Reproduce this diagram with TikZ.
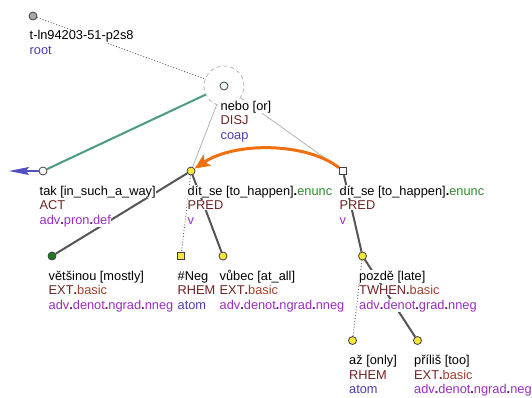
\documentclass[tikz,border=0pt]{standalone}
\usepackage{fontspec}
\setmainfont{Liberation Sans}
\usetikzlibrary{arrows.meta,backgrounds}
\definecolor{funcol}{HTML}{6E2323}
\definecolor{basiccol}{HTML}{A0402E}
\definecolor{purcol}{HTML}{9A2FC0}
\definecolor{purdark}{HTML}{5A1070}
\definecolor{blucol}{HTML}{4A3FAE}
\definecolor{grncol}{HTML}{2D8C2D}
\definecolor{edgedark}{HTML}{555555}
\definecolor{edgegreen}{HTML}{4B9B82}
\definecolor{orangecol}{HTML}{F07010}
\definecolor{bluearrcol}{HTML}{5050C0}
\definecolor{yelcol}{HTML}{F6E73A}
\definecolor{vetscol}{HTML}{1F7A1F}
\newcommand\dt[1]{\textcolor{#1}{\textbf{.}}}
\newcommand\exb{\textcolor{funcol}{EXT}\dt{funcol}\textcolor{basiccol}{basic}}
\newcommand\pdot{\dt{purdark}}
\newcommand\tlabels[5]{%
  \node[txt] (#1a) at ([shift={(-4,24)}]#2.center) {#3};
  \node[txt] (#1b) at ([shift={(-4,38.5)}]#2.center) {#4};
  \node[txt] (#1c) at ([shift={(-4,53)}]#2.center) {#5};}
\begin{document}
\begin{tikzpicture}[x=1pt,y=-1pt,
  txt/.style={anchor=base west,inner sep=0.5pt,fill=white,font=\fontsize{12.8}{15}\selectfont},
  mk/.style={circle,draw=black!75,line width=0.8pt,inner sep=0pt,minimum size=8pt},
  sqmk/.style={rectangle,draw=black!75,line width=0.8pt,inner sep=0pt,minimum size=7.5pt},
  darkedge/.style={draw=edgedark,line width=2pt},
  dotedge/.style={draw=black!60,line width=0.9pt,dotted},
  thinedge/.style={draw=black!30,line width=0.8pt}]
\useasboundingbox (0,0) rectangle (532,397);
% markers
\node[mk,fill=black!35] (root) at (33,16) {};
\node[circle,draw=black!28,dash pattern=on 4pt off 3pt,line width=0.8pt,fill=white,minimum size=40pt,inner sep=0pt] (ring) at (224,86) {};
\node[mk,fill=cyan!8] (nebo) at (224,86) {};
\node[mk,fill=white] (tak) at (43,171) {};
\node[mk,fill=yelcol] (dit1) at (191,171) {};
\node[sqmk,fill=white] (dit2) at (343,171) {};
\node[mk,fill=vetscol] (vets) at (52,256) {};
\node[sqmk,fill=yelcol] (neg) at (181,256) {};
\node[mk,fill=yelcol] (vubec) at (223,256) {};
\node[mk,fill=yelcol] (pozde) at (362.5,256) {};
\node[mk,fill=yelcol] (az) at (352.5,340.5) {};
\node[mk,fill=yelcol] (prilis) at (417.5,340.5) {};
\coordinate (tip) at (9,171);
% edges
\begin{scope}[on background layer]
  \draw[dotedge] (root) -- (nebo);
  \draw[draw=edgegreen,line width=2pt] (nebo) -- (tak);
  \draw[thinedge] (nebo) -- (dit1);
  \draw[thinedge] (nebo) -- (dit2);
  \draw[darkedge] (dit1) -- (vets);
  \draw[dotedge] (dit1) -- (neg);
  \draw[darkedge] (dit1) -- (vubec);
  \draw[darkedge] (dit2) -- (pozde);
  \draw[dotedge] (pozde) -- (az);
  \draw[darkedge] (pozde) -- (prilis);
\end{scope}
\draw[draw=bluearrcol,line width=1.3pt,-{Stealth[length=20pt,width=8pt,inset=3pt]}] (tak) -- (tip);
\draw[draw=orangecol,line width=3pt,-{Stealth[length=15pt,width=13pt,inset=3pt]}] (dit2) .. controls +(-35,-28) and +(45,-30) .. (dit1);
% labels
\node[txt] (roota) at ([shift={(-4,23.5)}]root.center) {t-ln94203-51-p2s8};
\node[txt] (rootb) at ([shift={(-4,38)}]root.center) {\textcolor{blucol}{root}};
\tlabels{nebo}{nebo}{nebo [or]}{\textcolor{funcol}{DISJ}}{\textcolor{blucol}{coap}}
\tlabels{tak}{tak}{tak [in\_such\_a\_way]}{\textcolor{funcol}{ACT}}{\textcolor{purcol}{adv\pdot pron\pdot def}}
\tlabels{dita}{dit1}{dít\_se [to\_happen]\dt{black}\textcolor{grncol}{enunc}}{\textcolor{funcol}{PRED}}{\textcolor{purcol}{v}}
\tlabels{ditb}{dit2}{dít\_se [to\_happen]\dt{black}\textcolor{grncol}{enunc}}{\textcolor{funcol}{PRED}}{\textcolor{purcol}{v}}
\tlabels{vets}{vets}{většinou [mostly]}{\exb}{\textcolor{purcol}{adv\pdot denot\pdot ngrad\pdot nneg}}
\tlabels{neg}{neg}{\#Neg}{\textcolor{funcol}{RHEM}}{\textcolor{blucol}{atom}}
\tlabels{vubec}{vubec}{vůbec [at\_all]}{\exb}{\textcolor{purcol}{adv\pdot denot\pdot ngrad\pdot nneg}}
\tlabels{pozde}{pozde}{pozdě [late]}{\textcolor{funcol}{TWHEN}\dt{funcol}\textcolor{basiccol}{basic}}{\textcolor{purcol}{adv\pdot denot\pdot grad\pdot nneg}}
\tlabels{az}{az}{až [only]}{\textcolor{funcol}{RHEM}}{\textcolor{blucol}{atom}}
\tlabels{prilis}{prilis}{příliš [too]}{\exb}{\textcolor{purcol}{adv\pdot denot\pdot ngrad\pdot neg}}
\end{tikzpicture}
\end{document}
